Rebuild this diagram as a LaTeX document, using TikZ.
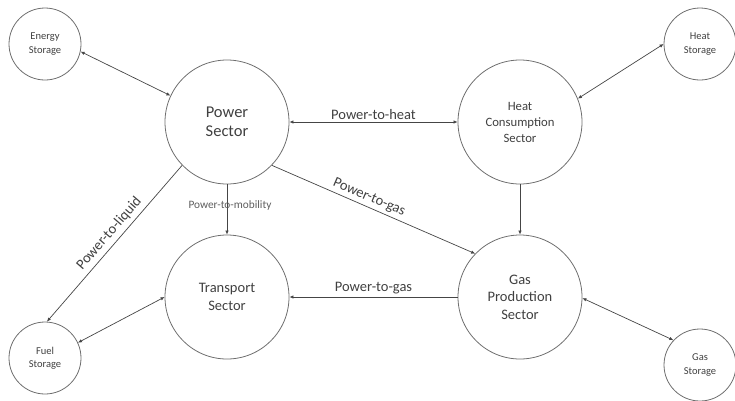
\documentclass[tikz,border=0pt]{standalone}
\usepackage{fontspec}
\setmainfont{Carlito}
\usetikzlibrary{arrows.meta}
\definecolor{txt}{HTML}{404040}
\definecolor{edge}{HTML}{6E6E6E}
\definecolor{conn}{HTML}{454545}
\begin{document}
\begin{tikzpicture}[x=1pt,y=-1pt,
  sector/.style={circle,draw=edge,line width=0.8pt,minimum size=124pt,inner sep=0pt,align=center,text=txt},
  store/.style={circle,draw=edge,line width=0.8pt,minimum size=72pt,inner sep=0pt,align=center,text=txt,font=\fontsize{10.5}{13.5}\selectfont},
  conn/.style={draw=conn,line width=0.7pt,-{Latex[length=4pt,width=3.5pt]}},
  biconn/.style={draw=conn,line width=0.7pt,{Latex[length=4pt,width=3.5pt]}-{Latex[length=4pt,width=3.5pt]}},
  lbl/.style={text=txt,font=\fontsize{14.5}{17}\selectfont,inner sep=2pt}]
\useasboundingbox (0,0) rectangle (735,400);
\node[store] (es) at (45,44) {Energy\\Storage};
\node[store] (hs) at (700,44) {Heat\\Storage};
\node[store] (fs) at (45,358) {Fuel\\Storage};
\node[store] (gs) at (700,365) {Gas\\Storage};
\node[sector,font=\fontsize{16.5}{19}\selectfont] (ps) at (227,122) {Power\\Sector};
\node[sector,font=\fontsize{12.7}{16}\selectfont] (hc) at (520,122) {Heat\\Consumption\\Sector};
\node[sector,font=\fontsize{14.5}{18}\selectfont] (tr) at (227,297) {Transport\\Sector};
\node[sector,font=\fontsize{14.5}{17.5}\selectfont] (gp) at (520,297) {Gas\\Production\\Sector};
\draw[biconn] (es.-12) -- (ps.155);
\draw[biconn] (ps.east) -- node[lbl,above] (l1) {Power-to-heat} (hc.west);
\draw[conn] (ps.-44) -- node[lbl,pos=0.46,sloped,above,inner sep=3pt] (l2) {Power-to-gas} (gp.136);
\draw[conn] (ps.south) -- (tr.north);
\node[text=txt!85,font=\fontsize{11.3}{13}\selectfont] (l3) at (230,205) {Power-to-mobility};
\draw[conn] (ps.-136) -- node[lbl,pos=0.48,sloped,above,inner sep=4pt] (l4) {Power-to-liquid} (fs.87);
\draw[conn] (hc.south) -- (gp.north);
\draw[conn] (gp.west) -- node[lbl,above,inner sep=3pt] (l5) {Power-to-gas} (tr.east);
\draw[biconn] (hc.22) -- (hs.west);
\draw[biconn] (gp.-1) -- (gs.137);
\draw[biconn] (tr.west) -- (fs.25);
\end{tikzpicture}
\end{document}
